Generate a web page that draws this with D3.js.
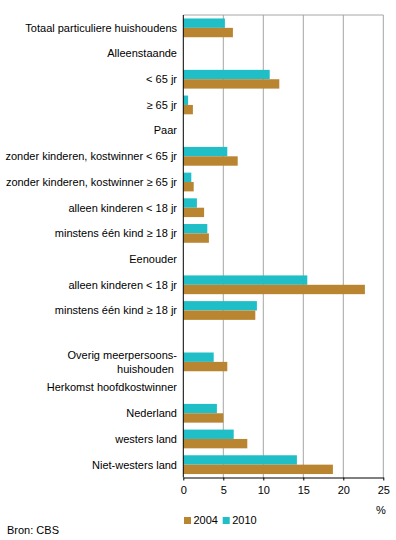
<!DOCTYPE html>
<html>
<head>
<meta charset="utf-8">
<script src="https://cdn.jsdelivr.net/npm/d3@7"></script>
<style>
body { margin: 0; background: #fff; }
svg text { font-family: Arial, "Liberation Sans", sans-serif; font-size: 11px; fill: #000; }
</style>
</head>
<body>
<div id="chart"></div>
<script>
// rows top to bottom, "" = empty spacer row, null = heading without bars
var categories = [
  "Totaal particuliere huishoudens",
  "Alleenstaande",
  "< 65 jr",
  "≥ 65 jr",
  "Paar",
  "zonder kinderen, kostwinner < 65 jr",
  "zonder kinderen, kostwinner ≥ 65 jr",
  "alleen kinderen < 18 jr",
  "minstens één kind ≥ 18 jr",
  "Eenouder",
  "alleen kinderen < 18 jr",
  "minstens één kind ≥ 18 jr",
  "",
  "Overig meerpersoons-|huishouden ",
  "Herkomst hoofdkostwinner",
  "Nederland",
  "westers land",
  "Niet-westers land"
];
var values2004 = [6.2, null, 12.0, 1.2, null, 6.8, 1.3, 2.6, 3.2, null, 22.7, 9.0, null, 5.5, null, 5.0, 8.0, 18.7];
var values2010 = [5.2, null, 10.8, 0.6, null, 5.5, 1.0, 1.7, 3.0, null, 15.5, 9.2, null, 3.8, null, 4.2, 6.3, 14.2];
var series = ["2010", "2004"];
var legendOrder = ["2004", "2010"];
var xTicks = [0, 5, 10, 15, 20, 25];
var colors = { "2004": "#b98530", "2010": "#20bec6" };

function draw() {
  var W = 396, H = 540;
  var pLeft = 183.3, pRight = 383.3, pTop = 15, pBottom = 477.5;

  var svg = d3.select("#chart").append("svg")
    .attr("width", W)
    .attr("height", H);

  var x = d3.scaleLinear().domain([0, 25]).range([pLeft, pRight]);
  var y = d3.scaleBand()
    .domain(categories.map(function (d, i) { return i; }))
    .range([pTop, pBottom])
    .paddingInner(0.27)
    .paddingOuter(0.135);
  var ySub = d3.scaleBand().domain(series).range([0, y.bandwidth()]);

  var rows = categories.map(function (c, i) {
    return { i: i, label: c, "2004": values2004[i], "2010": values2010[i] };
  });

  // gridlines
  svg.append("g").selectAll("line").data(xTicks.slice(1)).enter()
    .append("line")
    .attr("x1", function (d) { return x(d); })
    .attr("x2", function (d) { return x(d); })
    .attr("y1", pTop)
    .attr("y2", pBottom)
    .attr("stroke", "#a6a6a6")
    .attr("stroke-width", 1);
  svg.append("line")
    .attr("x1", pLeft).attr("x2", pRight)
    .attr("y1", pTop).attr("y2", pTop)
    .attr("stroke", "#a6a6a6");

  // bars
  series.forEach(function (s) {
    svg.append("g").selectAll("rect")
      .data(rows.filter(function (r) { return r[s] != null; }))
      .enter().append("rect")
      .attr("x", x(0))
      .attr("y", function (d) { return y(d.i) + ySub(s); })
      .attr("width", function (d) { return x(d[s]) - x(0); })
      .attr("height", ySub.bandwidth())
      .attr("fill", colors[s]);
  });

  // x axis
  var xAxis = svg.append("g")
    .attr("transform", "translate(0," + pBottom + ")")
    .call(d3.axisBottom(x).tickValues(xTicks).tickSize(3).tickSizeOuter(0).tickPadding(6));
  xAxis.select(".domain").attr("stroke", "#000");
  xAxis.selectAll(".tick line").attr("stroke", "#000");
  xAxis.selectAll("text").style("font-family", "Arial, 'Liberation Sans', sans-serif").style("font-size", "11px").attr("fill", "#000");

  // y axis line
  svg.append("line")
    .attr("x1", x(0)).attr("x2", x(0))
    .attr("y1", pTop).attr("y2", pBottom)
    .attr("stroke", "#000");

  // category labels
  var lab = svg.append("g").selectAll("text").data(rows.filter(function (r) { return r.label !== ""; }))
    .enter().append("text")
    .attr("text-anchor", "end")
    .attr("x", 177)
    .attr("y", function (d) { return y(d.i) + y.bandwidth() / 2; });
  lab.each(function (d) {
    var parts = d.label.split("|");
    var t = d3.select(this);
    parts.forEach(function (p, k) {
      t.append("tspan")
        .attr("x", 177)
        .attr("dy", k === 0 ? (0.35 - (parts.length - 1) * 0.65) + "em" : "1.3em")
        .style("white-space", "pre")
        .text(p);
    });
  });

  // unit
  svg.append("text").attr("x", 381).attr("y", 514).attr("text-anchor", "middle").text("%");

  // legend
  var leg = svg.append("g").selectAll("g").data(legendOrder).enter().append("g")
    .attr("transform", function (d, i) { return "translate(" + (184 + i * 38.7) + ",517)"; });
  leg.append("rect").attr("width", 7).attr("height", 7).attr("fill", function (d) { return colors[d]; });
  leg.append("text").attr("x", 9.5).attr("y", 3.5).attr("dy", "0.35em").text(function (d) { return d; });

  svg.append("text").attr("x", 7).attr("y", 530).attr("dy", "0.35em").text("Bron: CBS");
}
draw();
</script>
</body>
</html>
